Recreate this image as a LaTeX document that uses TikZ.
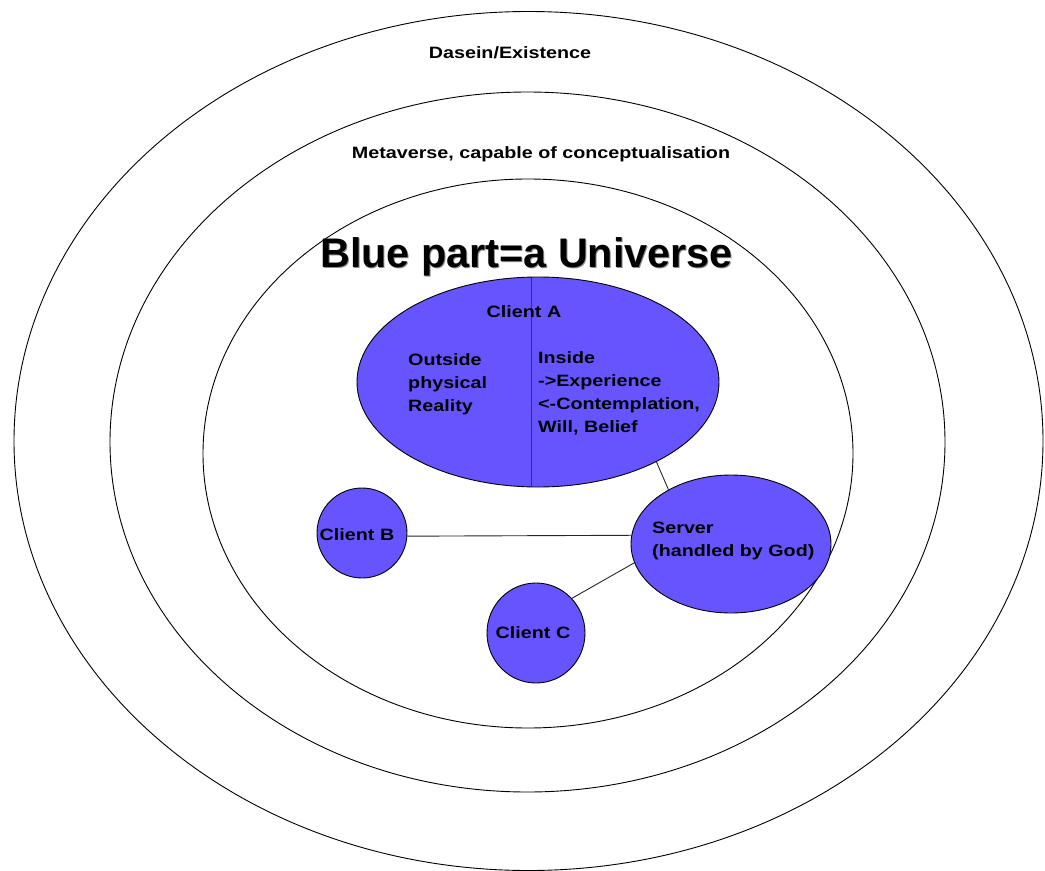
\documentclass[tikz,border=0pt]{standalone}
\usepackage{fontspec}
\usetikzlibrary{shapes.geometric}
\newfontfamily\labfont[FakeStretch=1.2]{Liberation Sans}
\newfontfamily\titlefont{Liberation Sans}
\definecolor{blob}{HTML}{6655FF}
\definecolor{divider}{HTML}{333366}
\tikzset{
  ring/.style={draw=black, line width=0.9bp},
  blobnode/.style={ellipse, draw=black, line width=0.9bp, fill=blob, inner sep=0pt},
  lab/.style={inner sep=0pt, font=\labfont\bfseries\fontsize{16.5}{20}\selectfont},
  link/.style={draw=black!85, line width=0.9bp}
}
\begin{document}
\begin{tikzpicture}[x=1bp,y=-1bp]
\useasboundingbox (0,0) rectangle (1045,871);
% rings
\draw[ring] (528.5,441) ellipse [x radius=514.5, y radius=429.5];
\draw[ring] (527.5,442) ellipse [x radius=417.5, y radius=350];
\draw[ring] (528,453.5) ellipse [x radius=325, y radius=274.5];
\node[lab, anchor=base] (dasein) at (510,58) {Dasein/Existence};
\node[lab, anchor=base] (meta) at (541,158) {Metaverse, capable of conceptualisation};
% title
\node[inner sep=0pt, anchor=base, text=black!45, font=\titlefont\bfseries\fontsize{41.5}{44}\selectfont] (titleshadow) at (527.5,268.5) {Blue part=a Universe};
\node[inner sep=0pt, anchor=base, font=\titlefont\bfseries\fontsize{41.5}{44}\selectfont] (title) at (526.5,267) {Blue part=a Universe};
% blobs
\node[blobnode, minimum width=362bp, minimum height=210bp] (A) at (538,382) {};
\node[blobnode, minimum width=90bp, minimum height=90bp] (B) at (362,533) {};
\node[blobnode, minimum width=98bp, minimum height=100bp] (C) at (536,633) {};
\node[blobnode, minimum width=200bp, minimum height=138bp] (S) at (731,544) {};
% divider in client A
\coordinate (dtop) at (531,277.5);
\coordinate (dbot) at (531,486.5);
\draw[divider, line width=0.8bp] (dtop) -- (dbot);
% links
\draw[link] (A.-34) -- (S.139);
\draw[link] (B.-4) -- (S.175);
\draw[link] (C.44) -- (S.191);
% texts
\node[lab, anchor=base] (ta) at (524,317) {Client A};
\node[lab, anchor=base west] (o1) at (408,365) {Outside};
\node[lab, anchor=base west] (o2) at (408,388) {physical};
\node[lab, anchor=base west] (o3) at (408,411) {Reality};
\node[lab, anchor=base west] (i1) at (538,363) {Inside};
\node[lab, anchor=base west] (i2) at (538,386) {->Experience};
\node[lab, anchor=base west] (i3) at (538,409) {<-Contemplation,};
\node[lab, anchor=base west] (i4) at (538,432) {Will, Belief};
\node[lab, anchor=base] (tb) at (357,540) {Client B};
\node[lab, anchor=base] (tc) at (533,638) {Client C};
\node[lab, anchor=base west] (s1) at (652,533) {Server};
\node[lab, anchor=base west] (s2) at (652,556) {(handled by God)};
\end{tikzpicture}
\end{document}
